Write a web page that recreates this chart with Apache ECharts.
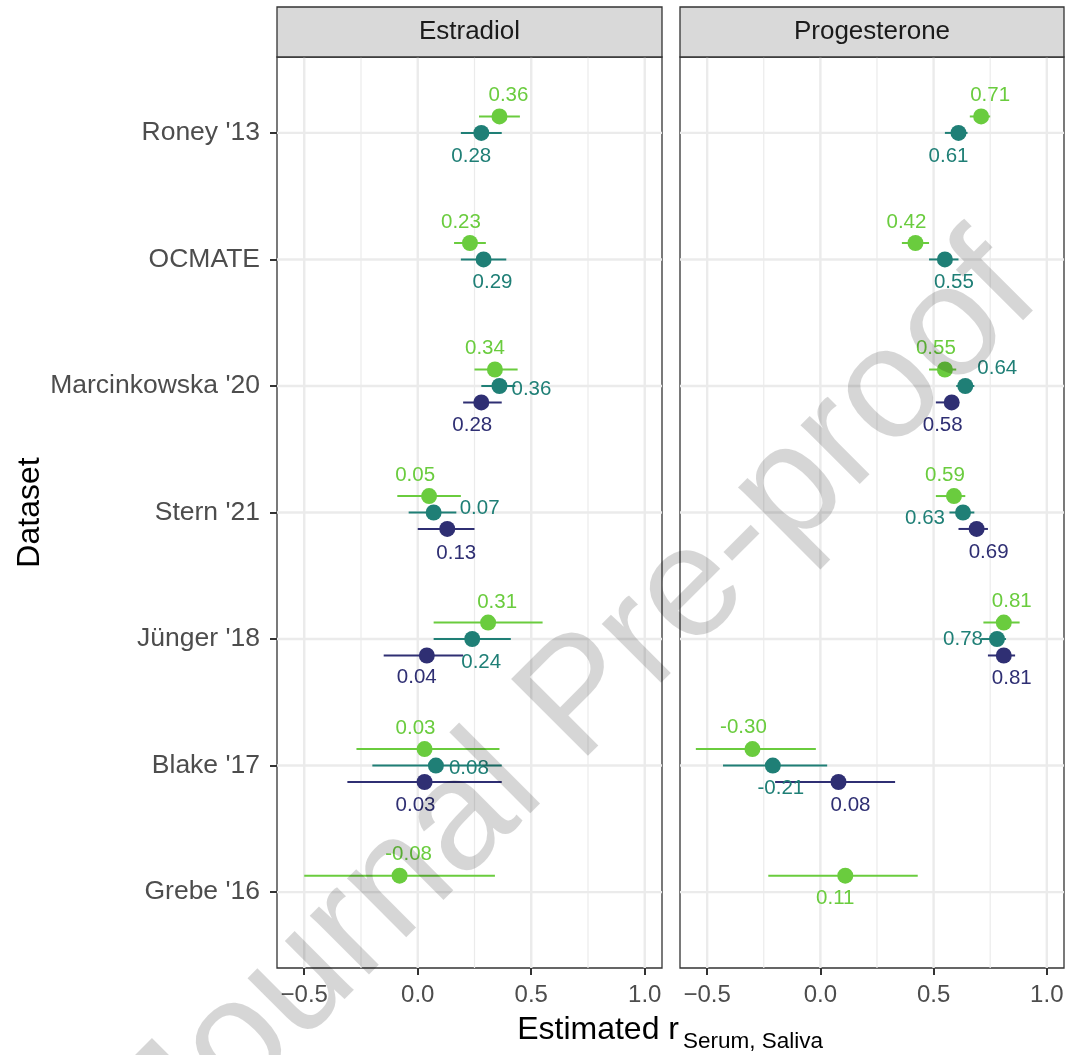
<!DOCTYPE html>
<html><head><meta charset="utf-8">
<script src="https://cdn.jsdelivr.net/npm/echarts@6/dist/echarts.min.js"></script>
<style>html,body{margin:0;padding:0;background:#fff}#c{width:1067px;height:1055px}</style>
</head><body><div id="c"></div>
<script>
// ---------------- data ----------------
const datasets = ["Roney '13", "OCMATE", "Marcinkowska '20", "Stern '21", "Jünger '18", "Blake '17", "Grebe '16"];
const panels = ["Estradiol", "Progesterone"];
const groups = ["Group 1", "Group 2", "Group 3"];
const xTickValues = [-0.5, 0, 0.5, 1.0];
const xMinorValues = [-0.25, 0.25, 0.75];

const estradiolGreen   = [0.36, 0.23, 0.34, 0.05, 0.31, 0.03, -0.08];
const estradiolGreenLo = [0.27, 0.16, 0.25, -0.09, 0.07, -0.27, -0.50];
const estradiolGreenHi = [0.45, 0.30, 0.44, 0.19, 0.55, 0.36, 0.34];
const estradiolTeal    = [0.28, 0.29, 0.36, 0.07, 0.24, 0.08, null];
const estradiolTealLo  = [0.19, 0.19, 0.28, -0.04, 0.07, -0.20, null];
const estradiolTealHi  = [0.37, 0.39, 0.43, 0.17, 0.41, 0.37, null];
const estradiolNavy    = [null, null, 0.28, 0.13, 0.04, 0.03, null];
const estradiolNavyLo  = [null, null, 0.20, 0.00, -0.15, -0.31, null];
const estradiolNavyHi  = [null, null, 0.37, 0.25, 0.20, 0.37, null];

const progGreen   = [0.71, 0.42, 0.55, 0.59, 0.81, -0.30, 0.11];
const progGreenLo = [0.66, 0.36, 0.48, 0.51, 0.72, -0.55, -0.23];
const progGreenHi = [0.75, 0.48, 0.60, 0.64, 0.88, -0.02, 0.43];
const progTeal    = [0.61, 0.55, 0.64, 0.63, 0.78, -0.21, null];
const progTealLo  = [0.55, 0.48, 0.60, 0.57, 0.71, -0.43, null];
const progTealHi  = [0.65, 0.61, 0.68, 0.68, 0.82, 0.03, null];
const progNavy    = [null, null, 0.58, 0.69, 0.81, 0.08, null];
const progNavyLo  = [null, null, 0.51, 0.61, 0.74, -0.20, null];
const progNavyHi  = [null, null, 0.61, 0.74, 0.86, 0.33, null];

// ---------------- styling / layout ----------------
const FONT = "'Liberation Sans', Arial, Helvetica, sans-serif";
const groupColors = ['#6ACC3E', '#1F7F76', '#2F2F73'];
const dodge = [-0.13, 0, 0.13];
const grids = [
  {left: 277, top: 57, width: 385, height: 911},
  {left: 680, top: 57, width: 384, height: 911}
];
// label nudges (pixels, from point centre to label centre), like ggrepel placement
const labelNudge = [
  [ // Estradiol
    [[9,-21],[-9,-21],[-10,-21],[-14,-21],[9,-20],[-9,-21],[9,-21]],
    [[-10,23],[9,23],[32,3],[46,-4],[9,23],[33,3],null],
    [null,null,[-9,23],[9,24],[-10,22],[-9,23],null]
  ],
  [ // Progesterone
    [[9,-21],[-9,-21],[-9,-21],[-9,-21],[8,-21],[-9,-22],[-10,23]],
    [[-10,23],[9,23],[32,-18],[-38,6],[-34,0],[8,23],null],
    [null,null,[-9,23],[12,23],[8,23],[12,23],null]
  ]
];

const panelData = [
  [[estradiolGreen, estradiolGreenLo, estradiolGreenHi],
   [estradiolTeal, estradiolTealLo, estradiolTealHi],
   [estradiolNavy, estradiolNavyLo, estradiolNavyHi]],
  [[progGreen, progGreenLo, progGreenHi],
   [progTeal, progTealLo, progTealHi],
   [progNavy, progNavyLo, progNavyHi]]
];

const catIdx = datasets.map((d, i) => i);
const series = [];

panels.forEach((p, k) => {
  // grid lines (drawn through the axes' scales)
  const gl = [];
  xTickValues.forEach(v => gl.push([v, 0, 0]));
  xMinorValues.forEach(v => gl.push([v, 0, 1]));
  catIdx.forEach(i => gl.push([0, i, 2]));
  series.push({
    type: 'custom', xAxisIndex: k, yAxisIndex: k, silent: true, z: 1, clip: false,
    data: gl,
    renderItem: (params, api) => {
      const cs = params.coordSys;
      const kind = api.value(2);
      if (kind === 2) {
        const y = api.coord([0, api.value(1)])[1];
        return {type: 'line', shape: {x1: cs.x, y1: y, x2: cs.x + cs.width, y2: y},
          style: {stroke: '#EBEBEB', lineWidth: 2.4}};
      }
      const x = api.coord([api.value(0), 0])[0];
      return {type: 'line', shape: {x1: x, y1: cs.y, x2: x, y2: cs.y + cs.height},
        style: {stroke: '#EBEBEB', lineWidth: kind === 0 ? 2.4 : 1.2}};
    }
  });

  groups.forEach((g, gi) => {
    const [est, lo, hi] = panelData[k][gi];
    const barData = [];
    const ptData = [];
    catIdx.forEach(i => {
      if (est[i] === null) return;
      const y = i + dodge[gi];
      barData.push([lo[i], hi[i], y]);
      const nd = labelNudge[k][gi][i] || [0, -21];
      ptData.push({value: [est[i], y], label: {offset: nd}});
    });
    series.push({
      type: 'custom', name: g, xAxisIndex: k, yAxisIndex: k, z: 3, silent: true,
      data: barData,
      renderItem: (params, api) => {
        const a = api.coord([api.value(0), api.value(2)]);
        const b = api.coord([api.value(1), api.value(2)]);
        return {type: 'line', shape: {x1: a[0], y1: a[1], x2: b[0], y2: b[1]},
          style: {stroke: groupColors[gi], lineWidth: 2}};
      }
    });
    series.push({
      type: 'scatter', name: g, xAxisIndex: k, yAxisIndex: k, z: 4,
      symbol: 'circle', symbolSize: 16,
      itemStyle: {color: groupColors[gi], opacity: 1},
      label: {
        show: true, position: 'inside', color: groupColors[gi],
        fontSize: 20.5, fontFamily: FONT,
        formatter: (pr) => pr.value[0].toFixed(2)
      },
      data: ptData
    });
  });
});

const xAxes = panels.map((p, k) => ({
  type: 'value', gridIndex: k, min: -0.62, max: 1.076, position: 'bottom',
  axisLine: {show: false, onZero: false},
  splitLine: {show: false}, minorSplitLine: {show: false},
  axisTick: {show: true, length: 7, lineStyle: {color: '#333', width: 2}, customValues: xTickValues},
  axisLabel: {show: true, color: '#4D4D4D', fontSize: 24, fontFamily: FONT, margin: 15,
    customValues: xTickValues, formatter: v => v.toFixed(1).replace('-', '\u2212')}
}));
const yAxes = panels.map((p, k) => ({
  type: 'value', gridIndex: k, min: -0.6, max: 6.6, inverse: true, position: 'left',
  axisLine: {show: false, onZero: false},
  splitLine: {show: false},
  axisTick: {show: k === 0, length: 7, lineStyle: {color: '#333', width: 2}, customValues: catIdx},
  axisLabel: {show: k === 0, color: '#4D4D4D', fontSize: 26.5, fontFamily: FONT, margin: 17,
    customValues: catIdx, formatter: v => datasets[Math.round(v)]}
}));

const graphic = [];
panels.forEach((p, k) => {
  const gb = grids[k];
  graphic.push({type: 'rect', z: 5, shape: {x: gb.left, y: 7, width: gb.width, height: 50},
    style: {fill: '#D9D9D9', stroke: '#333333', lineWidth: 1.3}});
  graphic.push({type: 'text', z: 6, x: gb.left + gb.width / 2, y: 32,
    style: {text: p, fill: '#1A1A1A', fontSize: 26, fontFamily: FONT,
      textAlign: 'center', textVerticalAlign: 'middle', align: 'center', verticalAlign: 'middle'}});
});
graphic.push({type: 'text', z: 6, x: 679, y: 1030,
  style: {text: 'Estimated r', fill: '#000', fontSize: 32, fontFamily: FONT,
    textAlign: 'right', textVerticalAlign: 'middle', align: 'right', verticalAlign: 'middle'}});
graphic.push({type: 'text', z: 6, x: 683, y: 1042,
  style: {text: 'Serum, Saliva', fill: '#000', fontSize: 22.5, fontFamily: FONT,
    textAlign: 'left', textVerticalAlign: 'middle', align: 'left', verticalAlign: 'middle'}});
graphic.push({type: 'text', z: 6, x: 30, y: 512.5, rotation: Math.PI / 2,
  style: {text: 'Dataset', fill: '#000', fontSize: 32, fontFamily: FONT,
    textAlign: 'center', textVerticalAlign: 'middle', align: 'center', verticalAlign: 'middle'}});
// watermark
graphic.push({type: 'text', z: 100, x: 582, y: 700, rotation: 45 * Math.PI / 180, silent: true,
  style: {text: 'Journal Pre-proof', fill: 'rgba(0,0,0,0.16)', fontSize: 158, fontFamily: FONT,
    textAlign: 'center', textVerticalAlign: 'middle', align: 'center', verticalAlign: 'middle'}});

const chart = echarts.init(document.getElementById('c'), null, {renderer: 'canvas'});
chart.setOption({
  animation: false,
  backgroundColor: '#ffffff',
  textStyle: {fontFamily: FONT},
  grid: grids.map(g => Object.assign({show: true, backgroundColor: '#fff', borderColor: '#333333', borderWidth: 1.3, containLabel: false}, g)),
  xAxis: xAxes,
  yAxis: yAxes,
  series: series,
  graphic: graphic
});
</script></body></html>
